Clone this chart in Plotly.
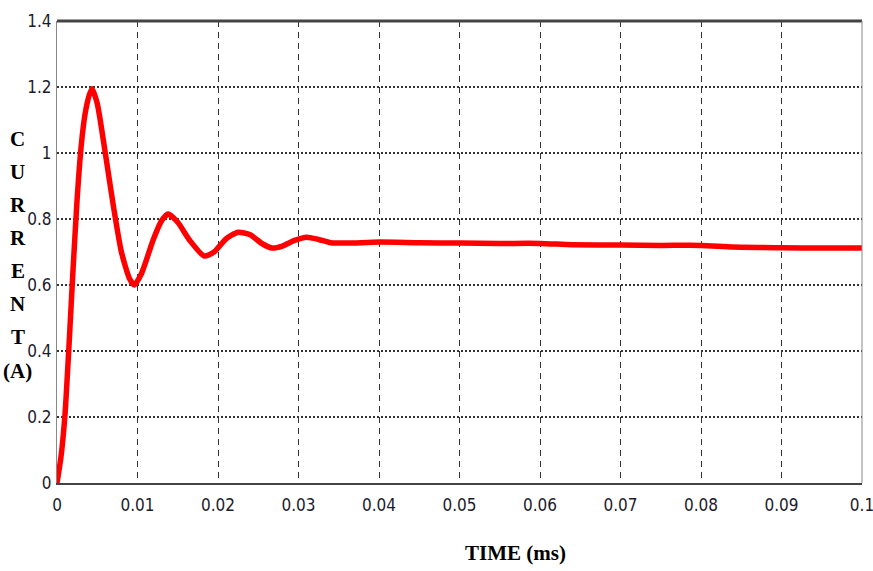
import plotly.graph_objects as go

time_ms = [0, 0.0005, 0.001, 0.0015, 0.002, 0.0025, 0.003, 0.0035, 0.004, 0.00435,
           0.005, 0.006, 0.007, 0.008, 0.009, 0.0096, 0.0105, 0.012, 0.013, 0.0138,
           0.015, 0.0165, 0.0183, 0.0195, 0.021, 0.0225, 0.024, 0.0255, 0.0267, 0.028,
           0.0295, 0.031, 0.0325, 0.034, 0.036, 0.04, 0.045, 0.05, 0.055, 0.06,
           0.064, 0.07, 0.075, 0.08, 0.084, 0.09, 0.095, 0.1]
current_a = [0, 0.08, 0.21, 0.42, 0.65, 0.86, 1.02, 1.12, 1.175, 1.195,
             1.15, 1.0, 0.84, 0.70, 0.62, 0.60, 0.635, 0.74, 0.795, 0.815,
             0.79, 0.735, 0.688, 0.70, 0.74, 0.76, 0.752, 0.725, 0.712, 0.718,
             0.735, 0.745, 0.738, 0.728, 0.727, 0.73, 0.728, 0.727, 0.726, 0.726,
             0.722, 0.721, 0.72, 0.72, 0.715, 0.713, 0.712, 0.712]

x_ticks = [0, 0.01, 0.02, 0.03, 0.04, 0.05, 0.06, 0.07, 0.08, 0.09, 0.1]
x_tick_labels = ["0", "0.01", "0.02", "0.03", "0.04", "0.05", "0.06", "0.07", "0.08", "0.09", "0.1"]
y_ticks = [0, 0.2, 0.4, 0.6, 0.8, 1.0, 1.2, 1.4]
y_tick_labels = ["0", "0.2", "0.4", "0.6", "0.8", "1", "1.2", "1.4"]
y_title_letters = ["C", "U", "R", "R", "E", "N", "T", "(A)"]

tick_font = dict(family="DejaVu Sans Condensed, Liberation Sans Narrow, Liberation Sans, sans-serif",
                 size=17, color="#1b1b2b")

fig = go.Figure()
fig.add_trace(go.Scatter(x=time_ms, y=current_a, mode="lines",
                         line=dict(color="#ff0000", width=5.5, shape="spline", smoothing=0.6),
                         showlegend=False, hoverinfo="skip", cliponaxis=False))

fig.update_layout(
    width=873, height=571,
    margin=dict(l=57, r=11, t=21, b=88),
    paper_bgcolor="white", plot_bgcolor="white",
    xaxis=dict(range=[0, 0.1000001], tickvals=x_ticks, ticktext=x_tick_labels,
               showgrid=True, gridcolor="#333333", gridwidth=1, griddash="6px,5px",
               zeroline=False, showline=True, linecolor="#444444", linewidth=2,
               tickfont=tick_font, ticks="", ticklabelstandoff=6, automargin=False,
               ticklabeloverflow="allow"),
    yaxis=dict(range=[0, 1.4], tickvals=y_ticks, ticktext=y_tick_labels,
               showgrid=True, gridcolor="#333333", gridwidth=1.5, griddash="2px,2px",
               zeroline=False, showline=True, linecolor="#888888", linewidth=1,
               tickfont=tick_font, ticks="", ticklabelstandoff=1, automargin=False,
               ticklabeloverflow="allow"),
)

# frame: thick dark top, thin gray right
fig.add_shape(type="line", xref="x domain", yref="y domain", x0=0, x1=1, y0=1, y1=1,
              line=dict(color="#444444", width=3))
fig.add_shape(type="line", xref="x domain", yref="y domain", x0=1, x1=1, y0=0, y1=1,
              line=dict(color="#888888", width=1))

title_font = dict(family="Liberation Serif, Times New Roman, serif", size=21, color="black")
for i, letter in enumerate(y_title_letters):
    fig.add_annotation(text=f"<b>{letter}</b>", xref="paper", yref="paper",
                       x=-0.049, y=0.744 - i * 0.0715,
                       xanchor="center", yanchor="middle", showarrow=False, font=title_font)

fig.add_annotation(text="<b>TIME</b> <b>(ms)</b>", xref="paper", yref="paper",
                   x=0.57, y=-0.152, xanchor="center", yanchor="middle",
                   showarrow=False, font=dict(family="Liberation Serif, Times New Roman, serif",
                                              size=21, color="black"))

fig.write_html("out.html", config={"displayModeBar": False},
               post_script="document.body.style.margin='0';document.body.style.padding='0';")
